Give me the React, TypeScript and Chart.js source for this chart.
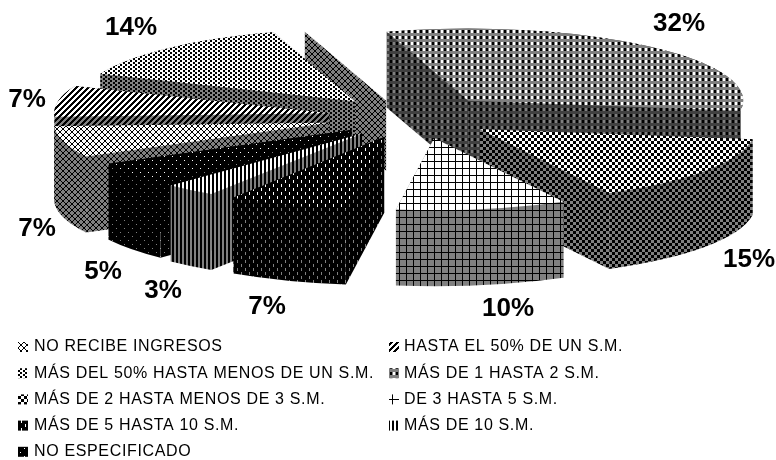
import { useEffect, useRef } from "react";
import { Chart, registerables } from "chart.js";

Chart.register(...registerables);

// Income brackets, in the order the slices run clockwise.
const categories = [
  "NO RECIBE INGRESOS",
  "HASTA EL 50% DE UN S.M.",
  "MÁS DEL 50% HASTA MENOS DE UN S.M.",
  "MÁS DE 1 HASTA 2 S.M.",
  "MÁS DE 2 HASTA MENOS DE 3 S.M.",
  "DE 3 HASTA 5 S.M.",
  "MÁS DE 5 HASTA 10 S.M.",
  "MÁS DE 10 S.M.",
  "NO ESPECIFICADO",
];
const shares = [7, 7, 14, 32, 15, 10, 7, 3, 5];

// Hatch tiles: '#' ink, '.' ground, 'm' half tone.
const tiles = [
  ["#....#", ".#..#.", "..##..", "..##..", ".#..#.", "#....#"],
  ["###...", "##...#", "#...##", "...###", "..###.", ".###.."],
  ["##...", "##...", "...##", "...##"],
  ["##m..m", "##m..m", "##m..m", "mmmmmm", "mmmmmm", "mmmmmm"],
  ["###...", "###...", "###...", "...###", "...###", "...###"],
  ["#######", "#......", "#......", "#......", "#......", "#......", "#......"],
  ["#.######", "#.######", "#.######", "########", "#####.##", "#####.##", "#####.##", "########"],
  ["##..", "##.."],
  [".#######", "########", "########", "########", "####.###", "########", "########", "########"],
];

// Label placement around the pie, one per slice.
const labelCentres = [
  [37, 229], [27, 100], [131, 28], [679, 24], [749, 260], [508, 309], [267, 307], [163, 291], [103, 272],
];

// Sideways adjustment of slices whose explosion is not purely radial.
const sliceNudges = [-2, 0, 0, 5, 3, 10, 3, 3, 7];

const FORESHORTEN = 0.262;
const WALL_DEPTH = 76;
const SLICE_OFFSET = 82;
const LEGEND_ROW = 26.2;
const LEGEND_TOP = 347;
const LEGEND_COLUMNS = [{ swatch: 18, text: 34 }, { swatch: 389, text: 404 }];

function makePattern(rows: string[], ground: string, half: string) {
  const tile = document.createElement("canvas");
  tile.width = rows[0].length;
  tile.height = rows.length;
  const g = tile.getContext("2d")!;
  rows.forEach((row, y) => {
    [...row].forEach((c, x) => {
      g.fillStyle = c === "#" ? "#000000" : c === "m" ? half : ground;
      g.fillRect(x, y, 1, 1);
    });
  });
  return g.createPattern(tile, "repeat")!;
}

export default function App() {
  const ref = useRef<HTMLCanvasElement>(null);

  useEffect(() => {
    const tops = tiles.map((t) => makePattern(t, "#ffffff", "#808080"));
    const walls = tiles.map((t) => makePattern(t, "#808080", "#404040"));

    const exploded = {
      id: "explodedPie",
      beforeDatasetsDraw(chart: any) {
        const ctx = chart.ctx as CanvasRenderingContext2D;
        const arcs = chart.getDatasetMeta(0).data as any[];

        const geometry = arcs.map((arc, index) => {
          const { x, y, startAngle, endAngle, outerRadius } = arc.getProps(
            ["x", "y", "startAngle", "endAngle", "outerRadius"],
            true,
          );
          const mid = (startAngle + endAngle) / 2;
          const off = arc.options.offset;
          return {
            index,
            mid,
            startAngle,
            endAngle,
            rx: outerRadius,
            ry: outerRadius * FORESHORTEN,
            cx: x + Math.cos(mid) * off + sliceNudges[index],
            cy: y + Math.sin(mid) * off * FORESHORTEN,
            top: arc.options.backgroundColor,
          };
        });

        const radialWall = (ax: number, ay: number, s: any, angle: number, depth: number) => {
          const ox = ax + Math.cos(angle) * s.rx;
          const oy = ay + Math.sin(angle) * s.ry;
          ctx.beginPath();
          ctx.moveTo(ax, ay);
          ctx.lineTo(ox, oy);
          ctx.lineTo(ox, oy + depth);
          ctx.lineTo(ax, ay + depth);
          ctx.closePath();
          ctx.fill();
        };

        // Stray wall showing through the seam between the two largest slices.
        const seam = geometry[3];
        ctx.fillStyle = walls[0];
        radialWall(seam.cx - 82, seam.cy, seam, seam.startAngle, 70);

        // Paint from the far side of the pie to the near side.
        [...geometry]
          .sort((a, b) => Math.sin(a.mid) - Math.sin(b.mid))
          .forEach((s) => {
            ctx.fillStyle = walls[s.index];
            radialWall(s.cx, s.cy, s, s.startAngle, WALL_DEPTH);
            radialWall(s.cx, s.cy, s, s.endAngle, WALL_DEPTH);
            ctx.beginPath();
            ctx.ellipse(s.cx, s.cy, s.rx, s.ry, 0, s.startAngle, s.endAngle);
            ctx.ellipse(s.cx, s.cy + WALL_DEPTH, s.rx, s.ry, 0, s.endAngle, s.startAngle, true);
            ctx.closePath();
            ctx.fill();

            ctx.fillStyle = s.top;
            ctx.beginPath();
            ctx.moveTo(s.cx, s.cy);
            ctx.ellipse(s.cx, s.cy, s.rx, s.ry, 0, s.startAngle, s.endAngle);
            ctx.closePath();
            ctx.fill();
          });
        return false;
      },
      afterDraw(chart: any) {
        const ctx = chart.ctx as CanvasRenderingContext2D & { letterSpacing: string };
        const labels = chart.data.labels as string[];
        const values = chart.data.datasets[0].data as number[];

        ctx.save();
        ctx.fillStyle = "#000000";
        ctx.textAlign = "center";
        ctx.textBaseline = "middle";
        ctx.font = 'bold 26px "Liberation Sans"';
        values.forEach((v, i) => {
          ctx.fillText(`${v}%`, labelCentres[i][0], labelCentres[i][1]);
        });

        ctx.textAlign = "left";
        ctx.font = '16px "Liberation Sans"';
        ctx.letterSpacing = "0.65px";
        labels.forEach((label, i) => {
          const col = LEGEND_COLUMNS[i % 2];
          const y = LEGEND_TOP + Math.floor(i / 2) * LEGEND_ROW;
          ctx.fillStyle = tops[i];
          ctx.fillRect(col.swatch, y - 5, 10, 10);
          ctx.fillStyle = "#000000";
          ctx.fillText(label, col.text, y);
        });
        ctx.restore();
      },
    };

    const chart = new Chart(ref.current!, {
      type: "pie",
      data: {
        labels: categories,
        datasets: [
          {
            data: shares,
            backgroundColor: tops,
            borderWidth: 0,
            offset: SLICE_OFFSET,
          },
        ],
      },
      options: {
        responsive: false,
        animation: false,
        rotation: 242,
        radius: 275,
        layout: { padding: { left: 44, bottom: 226 } },
        events: [],
        plugins: { legend: { display: false }, tooltip: { enabled: false } },
      },
      plugins: [exploded],
    } as any);

    return () => chart.destroy();
  }, []);

  return (
    <canvas
      ref={ref}
      width={776}
      height={460}
      style={{ position: "absolute", left: 0, top: 0, display: "block" }}
    />
  );
}
